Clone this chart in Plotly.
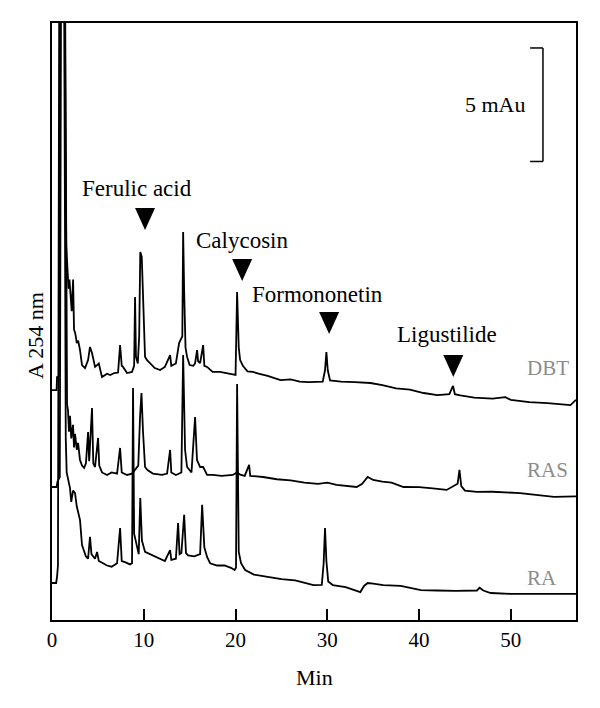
import plotly.graph_objects as go

# retention time (min) / absorbance (mAu, offset per sample)
dbt_t = [0.0, 0.5, 0.55, 0.75, 0.9, 1.35, 1.55, 1.7, 1.8, 1.9, 2.0, 2.15, 2.3, 2.4, 2.55, 2.7,
         2.85, 3.05, 3.27, 3.6, 3.93, 4.14, 4.36, 4.5, 4.69, 4.91, 5.1, 5.45, 6.0, 6.33, 6.8,
         7.2, 7.42, 7.6, 7.74, 8.18, 8.72, 8.95, 9.05, 9.15, 9.35, 9.5, 9.62, 9.78, 9.92, 10.14,
         10.36, 10.69, 11.2, 11.78, 12.3, 12.87, 13.0, 13.5, 13.74, 13.85, 14.2, 14.29, 14.4,
         14.55, 14.72, 15.0, 15.4, 15.59, 15.81, 15.92, 16.14, 16.47, 16.6, 16.9, 17.5, 18.3,
         19.0, 19.8, 20.0, 20.17, 20.35, 20.5, 20.8, 21.3, 21.9, 22.5, 23.5, 24.9, 26.0, 27.0,
         28.0, 29.5, 29.75, 29.9, 30.05, 30.3, 31.5, 33.0, 34.7, 36.0, 37.5, 39.0, 40.5, 42.0,
         43.3, 43.7, 43.9, 44.5, 46.0, 48.0, 49.4, 50.0, 52.0, 54.0, 56.5, 57.1]
dbt_a = [10.13, 10.13, 10.7, 10.75, 30, 30, 16.5, 15.3, 14.6, 15.0, 14.4, 13.6, 15.0, 12.8, 12.6,
         12.2, 12.3, 11.9, 11.23, 11.1, 11.45, 12.03, 11.76, 11.5, 11.15, 11.23, 11.3, 10.7,
         10.85, 10.79, 10.88, 10.9, 12.11, 11.2, 11.15, 10.88, 10.93, 11.2, 14.23, 11.6, 11.3,
         12.5, 16.21, 16.0, 14.1, 11.59, 11.45, 11.32, 11.1, 11.01, 11.15, 11.67, 11.2, 11.3,
         11.89, 12.2, 12.5, 17.09, 14.5, 12.0, 11.59, 11.23, 11.2, 11.3, 11.89, 11.4, 11.32,
         12.11, 11.2, 11.15, 10.93, 10.93, 10.88, 10.79, 10.8, 14.45, 12.0, 11.45, 11.2, 10.95,
         10.93, 10.85, 10.75, 10.57, 10.6, 10.5, 10.48, 10.5, 11.0, 11.8, 11.0, 10.55, 10.5,
         10.48, 10.44, 10.35, 10.2, 10.15, 10.0, 9.91, 9.95, 10.31, 9.95, 9.9, 9.8, 9.75, 9.82,
         9.7, 9.6, 9.55, 9.47, 9.7]

ras_t = [0.0, 0.5, 0.6, 0.85, 1.0, 1.4, 1.64, 1.74, 1.85, 1.96, 2.1, 2.29, 2.4, 2.51, 2.7, 2.84,
         3.05, 3.27, 3.5, 3.7, 3.93, 4.05, 4.36, 4.5, 4.69, 5.02, 5.15, 5.45, 6.0, 6.5, 7.09,
         7.42, 7.6, 8.18, 8.72, 9.05, 9.4, 9.6, 9.75, 9.92, 10.14, 10.4, 11.0, 12.0, 12.54,
         12.87, 13.0, 13.5, 14.1, 14.29, 14.5, 14.72, 15.2, 15.59, 15.8, 16.14, 16.47, 16.9,
         17.5, 18.5, 19.7, 20.17, 20.5, 21.0, 21.48, 21.6, 23.0, 24.5, 26.0, 27.5, 29.0, 30.0,
         31.0, 33.2, 33.8, 34.4, 35.0, 36.0, 37.0, 38.3, 40.0, 41.5, 43.0, 44.2, 44.4, 44.6,
         45.0, 46.3, 48.0, 51.0, 53.0, 54.7, 57.1]
ras_a = [5.86, 5.86, 6.1, 6.3, 30, 30, 9.5, 9.25, 8.3, 9.0, 8.0, 8.6, 7.6, 8.2, 7.5, 7.8, 7.05,
         6.8, 6.7, 6.9, 8.28, 7.0, 9.34, 6.9, 6.74, 8.02, 6.8, 6.5, 6.39, 6.5, 6.45, 7.58, 6.5,
         6.39, 6.45, 6.6, 6.8, 9.0, 10.0, 8.28, 6.74, 6.61, 6.45, 6.39, 6.45, 7.49, 6.5, 6.39,
         6.5, 11.67, 7.5, 6.74, 6.5, 8.94, 7.05, 6.74, 6.74, 6.39, 6.39, 6.35, 6.39, 6.5, 6.4,
         6.35, 6.83, 6.35, 6.3, 6.2, 6.15, 6.05, 6.0, 6.05, 5.95, 5.86, 6.0, 6.3, 6.17, 6.1,
         6.05, 5.86, 5.85, 5.8, 5.73, 6.0, 6.61, 5.9, 5.7, 5.64, 5.65, 5.59, 5.5, 5.42, 5.45]

ra_t = [0.0, 0.45, 0.55, 0.65, 0.8, 1.3, 1.5, 1.6, 1.96, 2.1, 2.29, 2.51, 2.7, 3.05, 3.27, 3.49,
        3.7, 3.93, 4.14, 4.3, 4.69, 4.91, 5.1, 5.56, 6.0, 6.5, 7.09, 7.42, 7.6, 7.96, 8.5, 8.72,
        8.83, 8.95, 9.27, 9.45, 9.62, 9.8, 10.14, 10.69, 11.5, 12.3, 12.87, 13.0, 13.5, 13.74,
        13.9, 14.1, 14.4, 14.6, 14.83, 15.5, 16.14, 16.36, 16.6, 16.9, 17.23, 17.99, 18.8, 19.5,
        19.9, 20.05, 20.17, 20.35, 20.6, 21.05, 22.0, 23.6, 25.0, 26.5, 27.3, 28.5, 29.4, 29.6,
        29.75, 29.9, 30.1, 30.6, 32.0, 33.6, 34.0, 34.4, 35.0, 36.1, 38.0, 40.2, 42.0, 44.0,
        46.3, 46.6, 47.0, 47.8, 50.0, 53.0, 57.1]
ra_a = [1.63, 1.63, 1.9, 2.4, 30, 30, 8.0, 6.5, 5.81, 5.2, 5.7, 5.59, 5.0, 4.41, 3.3, 3.0, 2.8,
        2.7, 3.66, 2.9, 2.7, 3.0, 2.6, 2.5, 2.4, 2.35, 2.5, 4.05, 2.6, 2.55, 2.45, 2.5, 10.22,
        3.8, 3.22, 2.9, 5.37, 3.5, 3.0, 2.9, 2.75, 2.6, 3.08, 2.65, 2.7, 4.27, 2.9, 2.95, 4.63,
        2.95, 2.85, 2.8, 2.9, 5.07, 3.2, 2.78, 2.5, 2.4, 2.4, 2.3, 2.2, 2.3, 10.4, 3.0, 2.5, 2.2,
        2.0, 1.89, 1.8, 1.75, 1.67, 1.54, 1.55, 2.5, 4.05, 2.6, 1.7, 1.54, 1.45, 1.23, 1.5,
        1.63, 1.6, 1.54, 1.5, 1.32, 1.3, 1.28, 1.3, 1.42, 1.3, 1.19, 1.15, 1.15, 1.15]

samples = ["DBT", "RAS", "RA"]
sample_label_y = [11.1, 6.61, 1.85]

compounds = ["Ferulic acid", "Calycosin", "Formononetin", "Ligustilide"]
compound_rt = [10.14, 20.72, 30.2, 43.73]
arrow_y = [17.67, 15.42, 13.08, 11.19]
label_rt = [9.27, 20.72, 28.9, 43.08]
label_y = [19.03, 16.74, 14.32, 12.56]

scale_mau = 5
scale_top = 25.2

FONT = "Liberation Serif"

fig = go.Figure()
for name, t, a in [("DBT", dbt_t, dbt_a), ("RAS", ras_t, ras_a), ("RA", ra_t, ra_a)]:
    fig.add_trace(go.Scatter(x=t, y=a, mode="lines", name=name,
                             line=dict(color="black", width=1.8), showlegend=False))

shapes = []
annotations = []

# peak arrows
for rt, y in zip(compound_rt, arrow_y):
    shapes.append(dict(type="path", xref="x", yref="y", xsizemode="pixel", ysizemode="pixel",
                       xanchor=rt, yanchor=y, path="M-10,11 L10,11 L0,-11 Z",
                       fillcolor="black", line=dict(width=0)))
for name, rt, y in zip(compounds, label_rt, label_y):
    annotations.append(dict(x=rt, y=y, xref="x", yref="y", text=name, showarrow=False,
                            font=dict(family=FONT, size=23, color="black")))

for name, y in zip(samples, sample_label_y):
    annotations.append(dict(x=51.5, y=y, xref="x", yref="y", text=name, showarrow=False,
                            xanchor="left", font=dict(family=FONT, size=21, color="#8c8c8c")))

# scale bar
shapes.append(dict(type="line", xref="x", yref="y", x0=53.5, x1=53.5,
                   y0=scale_top - scale_mau, y1=scale_top, line=dict(color="black", width=1.5)))
for yy in [scale_top - scale_mau, scale_top]:
    shapes.append(dict(type="line", xref="x", yref="y", x0=52.1, x1=53.5, y0=yy, y1=yy,
                       line=dict(color="black", width=1.5)))
annotations.append(dict(x=51.9, y=scale_top - scale_mau / 2, xref="x", yref="y",
                        text=f"{scale_mau} mAu", showarrow=False, xanchor="right",
                        font=dict(family=FONT, size=22, color="black")))

annotations.append(dict(x=0.5, y=-0.0955, xref="paper", yref="paper", text="Min",
                        showarrow=False, yanchor="middle",
                        font=dict(family=FONT, size=22, color="black")))
annotations.append(dict(x=(35 - 52) / 524, y=(620 - 336) / 597, xref="paper", yref="paper",
                        text="A 254 nm", showarrow=False, textangle=-90,
                        xanchor="center", yanchor="middle",
                        font=dict(family=FONT, size=22, color="black")))

# page body has an 8px margin, so the figure is trimmed to keep the plot box in place
fig.update_layout(
    width=584, height=692,
    margin=dict(l=44, r=16, t=15, b=80),
    plot_bgcolor="white", paper_bgcolor="white",
    shapes=shapes, annotations=annotations,
    font=dict(family=FONT, size=21, color="black"),
)

fig.update_xaxes(range=[0, 57.1], showgrid=False, zeroline=False, showline=True, mirror=True,
                 linecolor="black", linewidth=2, ticks="inside", ticklen=11, tickwidth=2,
                 tickcolor="black", tickvals=[0, 10, 20, 30, 40, 50],
                 tickfont=dict(family=FONT, size=21))
fig.update_yaxes(range=[0, 26.3], showgrid=False, zeroline=False, showline=True, mirror=True,
                 linecolor="black", linewidth=2, ticks="", showticklabels=False)

fig.write_html("out.html")
